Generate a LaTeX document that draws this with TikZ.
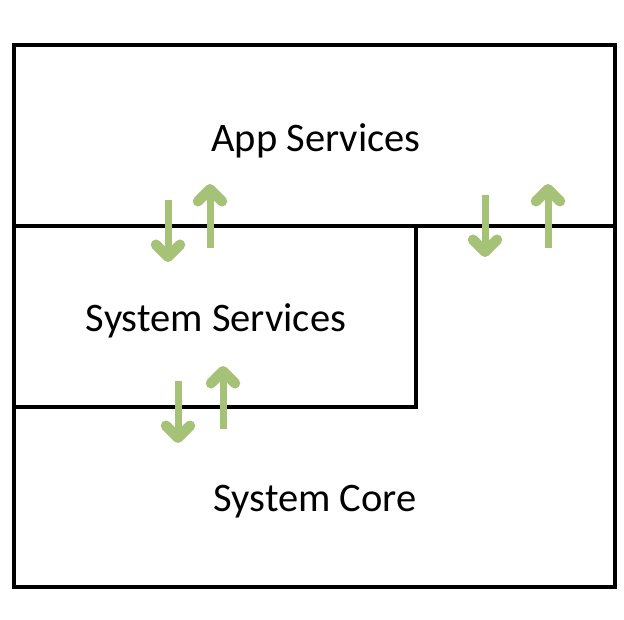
\documentclass[tikz,border=0pt]{standalone}
\usepackage{fontspec}
\setmainfont{Carlito}
\usepackage{xcolor}
\definecolor{flow}{HTML}{A6C276}
\usetikzlibrary{arrows.meta}
\tikzstyle{layer} = [draw, line width=4pt]
\tikzstyle{label} = [font=\fontsize{40.5}{48}\selectfont, inner sep=0pt]
\tikzstyle{line} = [draw=flow, line width=7pt,
    -{Straight Barb[length=12pt,width=24pt,line width=0pt 1.5,round]}]

\begin{document}
\begin{tikzpicture}[x=1pt,y=-1pt]
    \useasboundingbox (0,0) rectangle (624,620);
    % Place layers
    \draw [layer] (14,45) rectangle (615,587);
    \draw [layer] (14,226) -- (615,226);
    \draw [layer] (416,226) |- (14,407);

    \node [label] (app) at (316,141) {App Services};
    \node [label] (sys) at (216,321) {System Services};
    \node [label] (core) at (315,502) {System Core};

    % arrow ends
    \coordinate (d1s) at (168,200); \coordinate (d1e) at (168,262);
    \coordinate (u1s) at (210,248); \coordinate (u1e) at (210,184);
    \coordinate (d2s) at (485,195); \coordinate (d2e) at (485,257);
    \coordinate (u2s) at (548,248); \coordinate (u2e) at (548,184);
    \coordinate (d3s) at (178,381); \coordinate (d3e) at (178,443);
    \coordinate (u3s) at (223,429); \coordinate (u3e) at (223,366);

    % Draw arrows
    \path [line] (d1s) -- (d1e);
    \path [line] (u1s) -- (u1e);
    \path [line] (d2s) -- (d2e);
    \path [line] (u2s) -- (u2e);
    \path [line] (d3s) -- (d3e);
    \path [line] (u3s) -- (u3e);
\end{tikzpicture}
\end{document}
